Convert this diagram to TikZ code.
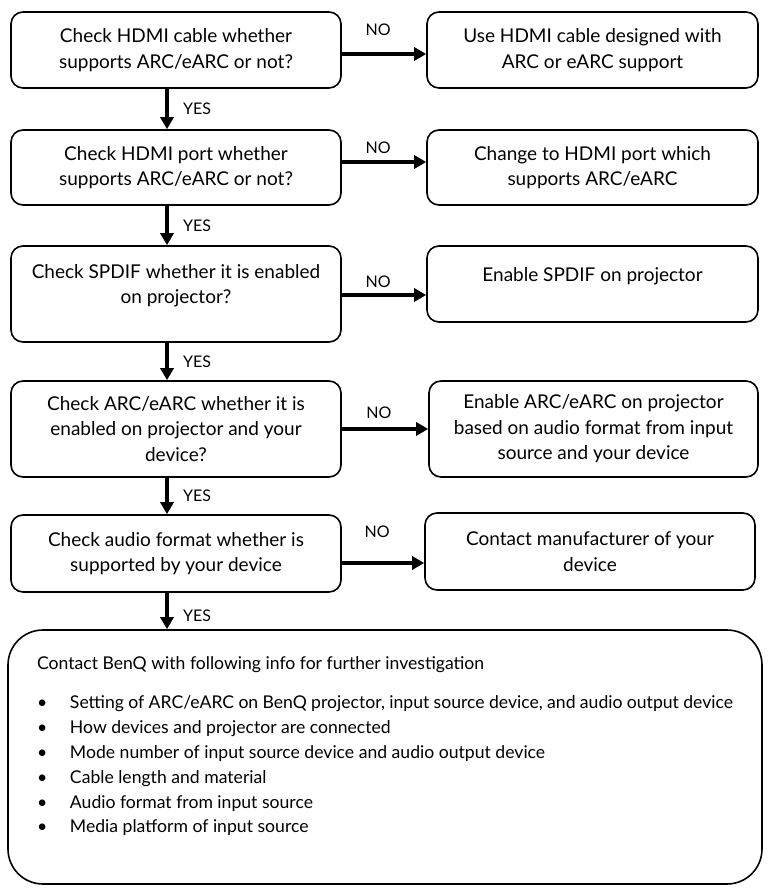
\documentclass[tikz,border=0pt]{standalone}
\usepackage{fontspec}
\setmainfont{Lato}
\usetikzlibrary{arrows.meta}
\begin{document}
\begin{tikzpicture}[x=1pt,y=-1pt,
  box/.style={draw, line width=1.6pt, rounded corners=12pt, align=center,
    font=\fontsize{19}{25.5}\selectfont, inner sep=0pt},
  arr/.style={line width=4pt, -{Triangle[length=12pt,width=13pt]}},
  lab/.style={font=\fontsize{16}{18}\selectfont, inner sep=1pt}]
\useasboundingbox (0,0) rectangle (769,889);
% left column
\node[box, minimum width=330pt, minimum height=76pt] (q1) at (176,50)
  {Check HDMI cable whether\\supports ARC/eARC or not?};
\node[box, minimum width=330pt, minimum height=75pt] (q2) at (176,167.5)
  {Check HDMI port whether\\supports ARC/eARC or not?};
\node[box, minimum width=330pt, minimum height=96pt, text depth=20pt] (q3) at (176,294)
  {Check SPDIF whether it is enabled\\on projector?};
\node[box, minimum width=330pt, minimum height=96pt] (q4) at (176,429)
  {Check ARC/eARC whether it is\\enabled on projector and your\\device?};
\node[box, minimum width=330pt, minimum height=77pt] (q5) at (176,553.5)
  {Check audio format whether is\\supported by your device};
% right column
\node[box, minimum width=331pt, minimum height=76pt] (a1) at (592.5,50)
  {Use HDMI cable designed with\\ARC or eARC support};
\node[box, minimum width=331pt, minimum height=75pt] (a2) at (592.5,167.5)
  {Change to HDMI port which\\supports ARC/eARC};
\node[box, minimum width=331pt, minimum height=76pt, text depth=18.5pt] (a3) at (592.5,284)
  {Enable SPDIF on projector};
\node[box, minimum width=329pt, minimum height=96pt] (a4) at (593.5,429)
  {Enable ARC/eARC on projector\\based on audio format from input\\source and your device};
\node[box, minimum width=330pt, minimum height=77pt] (a5) at (590,551.5)
  {Contact manufacturer of your\\device};
% final box
\node[draw, line width=1.6pt, rounded corners=35pt, minimum width=754pt,
  minimum height=254pt, inner sep=0pt] (info) at (385,757)
  {\begin{minipage}{696pt}\fontsize{17.6}{24.8}\selectfont
   Contact BenQ with following info for further investigation\par\vspace{15pt}
   \makebox[33pt][l]{\textbullet}Setting of ARC/eARC on BenQ projector, input source device, and audio output device\par
   \makebox[33pt][l]{\textbullet}How devices and projector are connected\par
   \makebox[33pt][l]{\textbullet}Mode number of input source device and audio output device\par
   \makebox[33pt][l]{\textbullet}Cable length and material\par
   \makebox[33pt][l]{\textbullet}Audio format from input source\par
   \makebox[33pt][l]{\textbullet}Media platform of input source\par
   \vspace*{22pt}
   \end{minipage}};
% YES arrows
\draw[arr] ([xshift=-9pt]q1.south) -- node[lab, xshift=30pt]{YES} ([xshift=-9pt]q2.north);
\draw[arr] ([xshift=-9pt]q2.south) -- node[lab, xshift=30pt]{YES} ([xshift=-9pt]q3.north);
\draw[arr] ([xshift=-9pt]q3.south) -- node[lab, xshift=30pt]{YES} ([xshift=-9pt]q4.north);
\draw[arr] ([xshift=-9pt]q4.south) -- node[lab, xshift=30pt]{YES} ([xshift=-9pt]q5.north);
\draw[arr] ([xshift=-9pt]q5.south) -- node[lab, xshift=30pt, yshift=-5pt]{YES} ([xshift=-9pt]q5.south |- info.north);
% NO arrows
\draw[arr] ([yshift=-4pt]q1.east) -- node[lab, pos=0.43, yshift=24pt]{NO} ([yshift=-4pt]q1.east -| a1.west);
\draw[arr] ([yshift=5.5pt]q2.east) -- node[lab, pos=0.43, yshift=14pt]{NO} ([yshift=5.5pt]q2.east -| a2.west);
\draw[arr] ([yshift=-1pt]q3.east) -- node[lab, pos=0.43, yshift=13pt]{NO} ([yshift=-1pt]q3.east -| a3.west);
\draw[arr] (q4.east) -- node[lab, pos=0.43, yshift=16pt]{NO} (q4.east -| a4.west);
\draw[arr] ([yshift=-9.5pt]q5.east) -- node[lab, pos=0.43, yshift=31pt]{NO} ([yshift=-9.5pt]q5.east -| a5.west);
\end{tikzpicture}
\end{document}
